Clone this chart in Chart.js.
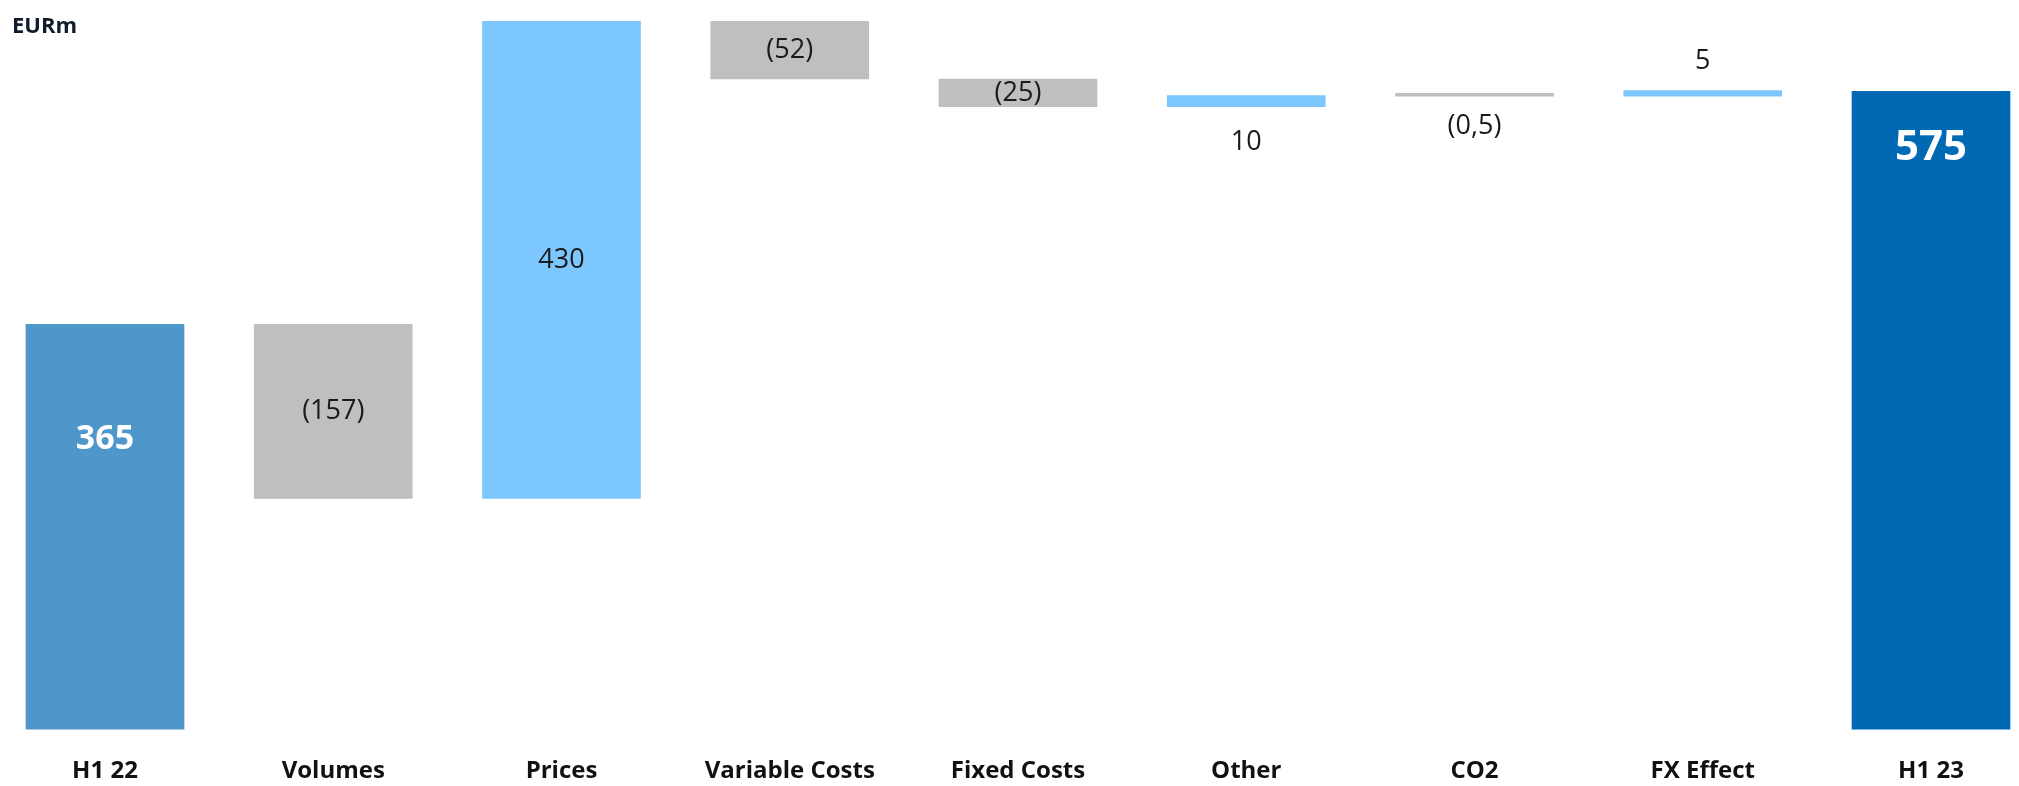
<!DOCTYPE html>
<html>
<head>
<meta charset="utf-8">
<script src="https://cdn.jsdelivr.net/npm/chart.js@4.4.0/dist/chart.umd.min.js"></script>
<style>
  body { margin: 0; background: #fff; }
  #wrap { position: relative; width: 2019px; height: 786px; }
  #unit { position: absolute; left: 12px; top: 9px; font: bold 22px "Open Sans", sans-serif; color: #0f1c2b; }
</style>
</head>
<body>
<div id="wrap">
  <div id="unit">EURm</div>
  <canvas id="bridge"></canvas>
</div>
<script>
// bridge from H1 22 to H1 23, EUR millions
const categories = ["H1 22", "Volumes", "Prices", "Variable Costs", "Fixed Costs", "Other", "CO2", "FX Effect", "H1 23"]
const changes = [365, -157, 430, -52, -25, 10, -0.5, 5, 575]
const isTotal = [true, false, false, false, false, false, false, false, true]
const labelPlace = ["top", "center", "center", "center", "center", "below", "below", "above", "top"]

const barColors = ["#4f97ca", "#bfbfbf", "#7cc8fe", "#bfbfbf", "#bfbfbf", "#7cc8fe", "#bfbfbf", "#7cc8fe", "#0069b4"]

// floating [start, end] pairs, running total for the steps
let running = 0
const floating = changes.map(function(v, i) {
  if (isTotal[i]) {
    running = v
    return [0, v]
  }
  const start = running
  running += v
  return [start, running]
})

function fmt(v) {
  const s = String(Math.abs(v)).replace(".", ",")
  return v < 0 ? "(" + s + ")" : s
}

const valueLabels = {
  id: "valueLabels",
  afterDatasetsDraw(chart) {
    const ctx = chart.ctx
    const meta = chart.getDatasetMeta(0)
    ctx.save()
    ctx.textAlign = "center"
    ctx.textBaseline = "middle"
    meta.data.forEach(function(bar, i) {
      const top = Math.min(bar.y, bar.base)
      const bottom = Math.max(bar.y, bar.base)
      let y = (top + bottom) / 2
      if (labelPlace[i] === "top") y = top + (i === 0 ? 115 : 57)
      if (labelPlace[i] === "below") y = bottom + (changes[i] < 0 ? 30 : 36)
      if (labelPlace[i] === "above") y = top - 29
      if (isTotal[i]) {
        ctx.fillStyle = "#ffffff"
        ctx.font = "bold " + (i === 0 ? 34 : 42) + "px 'Open Sans', sans-serif"
      } else {
        ctx.fillStyle = "#1a1a1a"
        ctx.font = "27px 'Open Sans', sans-serif"
      }
      ctx.fillText(fmt(changes[i]), bar.x, y)
    })
    ctx.restore()
  }
}

new Chart(document.getElementById("bridge"), {
  type: "bar",
  data: {
    labels: categories,
    datasets: [{
      data: floating,
      backgroundColor: barColors,
      borderWidth: 0,
      barThickness: 158,
      minBarLength: 3,
      clip: false
    }]
  },
  options: {
    responsive: true,
    maintainAspectRatio: false,
    animation: false,
    layout: { padding: { left: 105, right: 88, top: 8, bottom: -20 } },
    plugins: { legend: { display: false }, tooltip: { enabled: false } },
    scales: {
      x: {
        offset: false,
        grid: { display: false },
        border: { display: false },
        ticks: {
          padding: 20,
          color: "#111111",
          font: { family: "'Open Sans', sans-serif", size: 24, weight: "bold" },
          maxRotation: 0,
          autoSkip: false
        }
      },
      y: {
        display: false,
        min: 0,
        max: 650
      }
    }
  },
  plugins: [valueLabels]
})
</script>
</body>
</html>
